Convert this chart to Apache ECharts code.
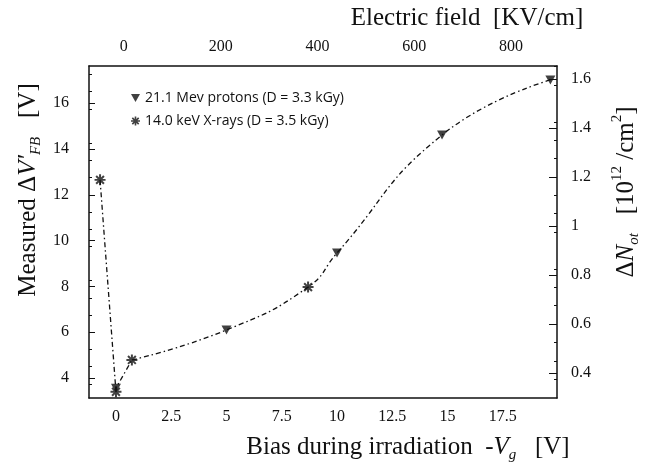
<!DOCTYPE html>
<html>
<head>
<meta charset="utf-8">
<script src="https://cdn.jsdelivr.net/npm/echarts@6/dist/echarts.min.js"></script>
<style>
  html, body { margin: 0; padding: 0; background: #fff; }
  #chart { width: 647px; height: 471px; }
</style>
</head>
<body>
<div id="chart"></div>
<script>
// Bias during irradiation (-Vg, V) and measured shift (V)
const protonBias   = [0, 5, 10, 14.75, 19.65];
const protonShift  = [3.56, 6.1, 9.46, 14.61, 17.01];
const xrayBias     = [-0.72, 0, 0.72, 8.69];
const xrayShift    = [12.65, 3.4, 4.79, 7.97];

// Tick labels
const biasTicks  = [0, 2.5, 5, 7.5, 10, 12.5, 15, 17.5, 20];
const fieldTicks = [0, 200, 400, 600, 800];
const shiftTicks = [4, 6, 8, 10, 12, 14, 16];
const densTicks  = [0.4, 0.6, 0.8, 1, 1.2, 1.4, 1.6];

const legendNames = ['21.1 Mev protons (D = 3.3 kGy)', '14.0 keV X-rays (D = 3.5 kGy)'];

// Guide line through all measured points in bias order:
// straight drop down to the zero-bias points, smooth rise afterwards
const allPoints = protonBias.map((x, i) => [x, protonShift[i]])
  .concat(xrayBias.map((x, i) => [x, xrayShift[i]]))
  .sort((a, b) => a[0] - b[0] || a[1] - b[1]);
const dropPart = allPoints.slice(0, 4);
const risePart = allPoints.slice(3);

const TRI = 'path://M0,0 L10,0 L5,9 Z';
const STAR = 'path://M-0.9,-5 L0.9,-5 L0.9,5 L-0.9,5 Z ' +
  'M-5,-0.9 L5,-0.9 L5,0.9 L-5,0.9 Z ' +
  'M4.18,2.9 L2.9,4.18 L-4.18,-2.9 L-2.9,-4.18 Z ' +
  'M-2.9,4.18 L-4.18,2.9 L2.9,-4.18 L4.18,-2.9 Z';

const serif = 'Liberation Serif';
const ink = '#111';
const tickFont = { fontFamily: serif, fontSize: 16, color: ink };
const axisLine = { show: true, onZero: false, lineStyle: { color: ink, width: 1.5 } };
const TITLE_SIZE = 25;

function titleRich() {
  const base = { fontFamily: serif, fontSize: TITLE_SIZE, fill: ink, lineHeight: 32 };
  return {
    n: Object.assign({}, base),
    i: Object.assign({}, base, { fontStyle: 'italic' }),
    sub: Object.assign({}, base, { fontSize: 15, fontStyle: 'italic', verticalAlign: 'bottom' }),
    sup: Object.assign({}, base, { fontSize: 15, verticalAlign: 'top' })
  };
}

function titleText(text, x, y, rotation) {
  return {
    type: 'text', x: x, y: y, rotation: rotation || 0, silent: true,
    style: {
      text: text, align: 'center', verticalAlign: 'middle',
      fontFamily: serif, fontSize: TITLE_SIZE, fill: ink, rich: titleRich()
    }
  };
}

const chart = echarts.init(document.getElementById('chart'), null, { renderer: 'canvas' });
chart.setOption({
  backgroundColor: '#fff',
  animation: false,
  grid: { left: 89, right: 90, top: 66, bottom: 73, containLabel: false },
  graphic: [
    titleText('{n|Electric field  [KV/cm]}', 467, 18),
    titleText('{n|Bias during irradiation  -}{i|V}{sub|g}{n|   [V]}', 408, 447),
    titleText('{n|Measured Δ}{i|V′}{sub|FB}{n|   [V]}', 28, 190, Math.PI / 2),
    titleText('{n|Δ}{i|N}{sub|ot}{n|   [10}{sup|12}{n| /cm}{sup|2}{n|]}', 626, 192, Math.PI / 2)
  ],
  legend: {
    data: legendNames.map((n, i) => ({ name: n, icon: i === 0 ? TRI : STAR })),
    orient: 'vertical', left: 126, top: 86,
    itemWidth: 9, itemHeight: 9, itemGap: 9,
    textStyle: { fontFamily: 'Open Sans', fontSize: 14, color: ink },
    selectedMode: false
  },
  xAxis: [{
    type: 'value', position: 'bottom', min: -1.22, max: 19.95,
    axisLine: axisLine, axisTick: { show: false }, splitLine: { show: false },
    axisLabel: Object.assign({ margin: 11, customValues: biasTicks }, tickFont)
  }, {
    type: 'value', position: 'top', min: -72, max: 895,
    axisLine: axisLine, axisTick: { show: false }, splitLine: { show: false },
    axisLabel: Object.assign({ margin: 11, customValues: fieldTicks }, tickFont)
  }],
  yAxis: [{
    type: 'value', position: 'left', min: 3.13, max: 17.62,
    axisLine: axisLine, splitLine: { show: false },
    axisTick: { show: true, inside: true, length: 6, customValues: shiftTicks, lineStyle: { color: ink } },
    minorTick: { show: true, splitNumber: 4, length: 3, lineStyle: { color: ink } },
    axisLabel: Object.assign({ margin: 20, customValues: shiftTicks }, tickFont)
  }, {
    type: 'value', position: 'right', min: 0.298, max: 1.653,
    axisLine: axisLine, splitLine: { show: false },
    axisTick: { show: true, inside: true, length: 8, customValues: densTicks, lineStyle: { color: ink } },
    minorTick: { show: true, splitNumber: 4, length: 3, lineStyle: { color: ink } },
    axisLabel: Object.assign({ margin: 14, customValues: densTicks }, tickFont)
  }],
  series: [{
    name: 'drop', type: 'line', data: dropPart,
    symbol: 'none', silent: true,
    lineStyle: { color: ink, width: 1.3, type: [5, 3, 1.5, 3] }, z: 2
  }, {
    name: 'rise', type: 'line', data: risePart,
    smooth: 0.5, symbol: 'none', silent: true,
    lineStyle: { color: ink, width: 1.3, type: [5, 3, 1.5, 3] }, z: 2
  }, {
    name: legendNames[0], type: 'scatter',
    data: protonBias.map((x, i) => [x, protonShift[i]]),
    symbol: TRI, symbolSize: [10, 9],
    itemStyle: { color: ink }, z: 3
  }, {
    name: legendNames[1], type: 'scatter',
    data: xrayBias.map((x, i) => [x, xrayShift[i]]),
    symbol: STAR, symbolSize: 11,
    itemStyle: { color: ink }, z: 3
  }]
});
</script>
</body>
</html>
